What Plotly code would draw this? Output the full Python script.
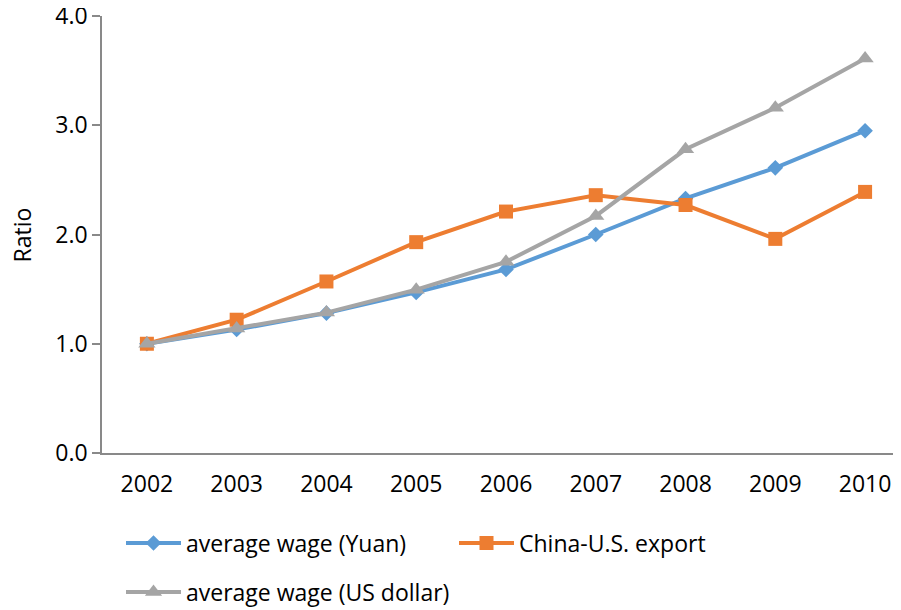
import plotly.graph_objects as go

years = ["2002", "2003", "2004", "2005", "2006", "2007", "2008", "2009", "2010"]
wage_yuan = [1.00, 1.13, 1.28, 1.47, 1.68, 2.00, 2.33, 2.61, 2.95]
export_us = [1.00, 1.22, 1.57, 1.93, 2.21, 2.36, 2.27, 1.96, 2.39]
wage_usd = [1.00, 1.14, 1.285, 1.495, 1.75, 2.17, 2.78, 3.16, 3.61]
y_ticks = [0, 1, 2, 3, 4]

# page has an 8px body margin, so the figure is 893x602 placed at (8,8)
W, H = 893, 602
OFF = 8
FONT = "Open Sans"
fig = go.Figure()
fig.add_trace(go.Scatter(x=years, y=wage_yuan, name="average wage (Yuan)", mode="lines+markers",
                         line=dict(color="#5B9BD5", width=4),
                         marker=dict(symbol="diamond", size=12, color="#5B9BD5"), legend="legend"))
fig.add_trace(go.Scatter(x=years, y=export_us, name="China-U.S. export", mode="lines+markers",
                         line=dict(color="#ED7D31", width=4),
                         marker=dict(symbol="square", size=14, color="#ED7D31"), legend="legend"))
fig.add_trace(go.Scatter(x=years, y=wage_usd, name="average wage (US dollar)", mode="lines+markers",
                         line=dict(color="#A5A5A5", width=4),
                         marker=dict(symbol="triangle-up", size=15, color="#A5A5A5"), legend="legend2"))

fig.update_layout(
    width=W, height=H,
    margin=dict(l=102 - OFF, r=0, t=16 - OFF, b=157, autoexpand=False),
    paper_bgcolor="white", plot_bgcolor="white",
    font=dict(family=FONT, size=23, color="#000000"),
    xaxis=dict(type="category", range=[-0.5, 8.4], showgrid=False, showline=True,
               linecolor="#898989", linewidth=1.5, ticks="", tickfont=dict(size=23),
               ticklabelstandoff=10, zeroline=False, automargin=False),
    yaxis=dict(range=[0, 4.0001], tickvals=y_ticks, tickformat=".1f", showgrid=False,
               showline=True, linecolor="#898989", linewidth=1.5, ticks="outside",
               ticklen=8, tickcolor="#898989", tickwidth=1.5, zeroline=False,
               tickfont=dict(size=23), automargin=False, ticklabeloverflow="allow"),
    annotations=[dict(text="Ratio", textangle=-90, xref="paper", yref="paper",
                      x=(21 - 102) / 799, y=(453 - 235.5) / 437, xanchor="center", yanchor="middle",
                      showarrow=False, font=dict(size=23))],
    legend=dict(orientation="h", xref="container", yref="container", x=(121 - OFF) / W,
                y=1 - (543 - OFF) / H, xanchor="left", yanchor="middle", entrywidth=263,
                entrywidthmode="pixels", font=dict(size=23), bgcolor="rgba(0,0,0,0)", itemwidth=55),
    legend2=dict(orientation="h", xref="container", yref="container", x=(121 - OFF) / W,
                 y=1 - (592 - OFF) / H, xanchor="left", yanchor="middle", font=dict(size=23),
                 bgcolor="rgba(0,0,0,0)", itemwidth=55),
)

fig.write_html("out.html")
